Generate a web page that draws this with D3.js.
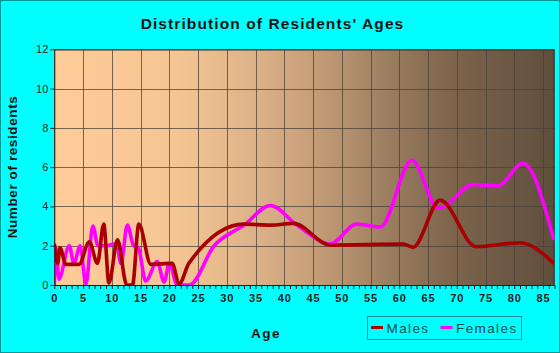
<!DOCTYPE html>
<html><head><meta charset="utf-8">
<script src="https://cdn.jsdelivr.net/npm/d3@7"></script>
<style>html,body{margin:0;padding:0;background:#00ffff;}svg{display:block;}</style>
</head><body><div id="chart"></div>
<script>
const title = "Distribution of Residents' Ages";
const xLabel = "Age", yLabel = "Number of residents";
const seriesNames = ["Males", "Females"];
const xTicks = [0,5,10,15,20,25,30,35,40,45,50,55,60,65,70,75,80,85];
const yTicks = [0,2,4,6,8,10,12];
const maleAges = [0,0.6,1.0,2,4.3,6.1,7.5,8.6,9.5,11,12.6,13.6,14.7,16.8,20.5,21.7,23.4,33,37.6,41.6,48,60.7,62.4,67.1,73.4,81,86.9];
const maleValues = [2.1,1.1,1.9,1.05,1.05,2.2,1.1,3.1,0.1,2.3,0,0,3.1,1.05,1.1,0.05,1.1,3.1,3.05,3.14,2.03,2.08,1.92,4.32,1.95,2.15,1.1];
const femaleAges = [0,0.3,0.8,2.6,3.4,4.5,5.5,6.7,7.6,8.8,9.8,10.8,11.6,12.7,13.8,14.6,15.9,17.9,19.1,20,21.4,23.5,27.8,33,37.6,42,48,52.6,56.7,62.2,66.8,72.9,77.2,81.5,86.9];
const femaleValues = [0,1.9,0.3,2.0,1.1,2.0,0.05,3.0,2.0,2.0,2.05,2.1,1.1,3.05,2.0,1.9,0.2,1.2,0.15,1.1,0,0,2.0,3.05,4.05,3.1,2.1,3.1,2.95,6.35,3.9,5.12,5.05,6.19,2.3];

const W = 560, H = 353;
const m = {left:54.3, right:554.5, top:49.3, bottom:285};
const svg = d3.select("#chart").append("svg").attr("width",W).attr("height",H);
svg.append("rect").attr("x",0.5).attr("y",0.5).attr("width",W-1).attr("height",H-1)
  .attr("fill","#00ffff").attr("stroke","#009999");

const x = d3.scaleLinear().domain([0,87]).range([m.left,m.right]);
const y = d3.scaleLinear().domain([0,12]).range([m.bottom,m.top]);

const defs = svg.append("defs");
const g = defs.append("linearGradient").attr("id","bg").attr("x1","0").attr("x2","1").attr("y1","0").attr("y2","0");
[[0,"#ffcc99"],[0.25,"#f4c593"],[0.39,"#dfb389"],[0.49,"#cca37d"],[0.57,"#b8936f"],[0.65,"#a08163"],[0.79,"#7e654c"],[0.93,"#6a5643"],[1,"#5f4e3c"]]
  .forEach(s=>g.append("stop").attr("offset",s[0]).attr("stop-color",s[1]));
defs.append("clipPath").attr("id","clip").append("rect")
  .attr("x",m.left).attr("y",m.top-2).attr("width",m.right-m.left).attr("height",m.bottom-m.top+2);

svg.append("rect").attr("x",m.left).attr("y",m.top).attr("width",m.right-m.left).attr("height",m.bottom-m.top).attr("fill","url(#bg)");

// grid
const grid = svg.append("g").attr("stroke","#4a4038").attr("stroke-opacity",0.75).attr("stroke-width",1);
yTicks.forEach(t=>grid.append("line").attr("x1",m.left).attr("x2",m.right).attr("y1",Math.round(y(t))+0.5).attr("y2",Math.round(y(t))+0.5));
xTicks.forEach(t=>grid.append("line").attr("x1",Math.round(x(t))+0.5).attr("x2",Math.round(x(t))+0.5).attr("y1",m.top).attr("y2",m.bottom));
// border top/right
svg.append("path").attr("d",`M${m.left},${m.top+0.5}H${m.right-0.5}V${m.bottom}`).attr("fill","none").attr("stroke","#3a3028").attr("stroke-width",1.2);

// lines
const line = d3.line().x(d=>x(d[0])).y(d=>y(Math.max(0,d[1]))).curve(d3.curveMonotoneX);
const lg = svg.append("g").attr("clip-path","url(#clip)");
lg.append("path").datum(femaleAges.map((a,i)=>[a,femaleValues[i]])).attr("d",line)
  .attr("fill","none").attr("stroke","#ff00ff").attr("stroke-width",3.6).attr("stroke-linejoin","round");
lg.append("path").datum(maleAges.map((a,i)=>[a,maleValues[i]])).attr("d",line)
  .attr("fill","none").attr("stroke","#a80000").attr("stroke-width",3.6).attr("stroke-linejoin","round");

// axes
const xAxis = d3.axisBottom(x).tickValues(d3.range(0,88,1)).tickSize(4).tickFormat(d=> d%5===0 ? d : "");
const xa = svg.append("g").attr("transform",`translate(0,${m.bottom})`).call(xAxis);
xa.select(".domain").attr("stroke","#222").attr("d",`M${m.left},0.5H${m.right}`);
xa.selectAll(".tick line").attr("stroke","#222");
xa.selectAll("text").attr("font-family","Liberation Sans, Arial, sans-serif").attr("font-size",11).attr("font-weight","bold")
  .attr("fill","#1a1a1a").attr("letter-spacing","0.8px").attr("dy","0.95em");

const yAxis = d3.axisLeft(y).tickValues(yTicks).tickSize(4).tickPadding(2);
const ya = svg.append("g").attr("transform",`translate(${m.left},0)`).call(yAxis);
ya.select(".domain").attr("stroke","#222").attr("d",`M0.5,${m.top}V${m.bottom}`);
ya.selectAll(".tick line").attr("stroke","#222");
ya.selectAll("text").attr("font-family","Liberation Sans, Arial, sans-serif").attr("font-size",11).attr("fill","#222");

// titles
svg.append("text").attr("x",272.5).attr("y",28.5).attr("text-anchor","middle")
  .attr("font-family","Liberation Sans, Arial, sans-serif").attr("font-size",15.5).attr("font-weight","bold")
  .attr("letter-spacing","1.1px").attr("fill","#111").text(title);
svg.append("text").attr("x",266).attr("y",337.5).attr("text-anchor","middle")
  .attr("font-family","Liberation Sans, Arial, sans-serif").attr("font-size",13.5).attr("font-weight","bold")
  .attr("letter-spacing","1.5px").attr("fill","#111").text(xLabel);
svg.append("text").attr("transform",`translate(16.5,167) rotate(-90)`).attr("text-anchor","middle")
  .attr("font-family","Liberation Sans, Arial, sans-serif").attr("font-size",13.5).attr("font-weight","bold")
  .attr("letter-spacing","0.6px").attr("fill","#111").text(yLabel);

// legend
const leg = svg.append("g");
leg.append("rect").attr("x",367.5).attr("y",316.5).attr("width",154).attr("height",23)
  .attr("fill","none").attr("stroke","#1a8a8a").attr("stroke-width",1);
const colors = ["#a80000","#ff00ff"];
const lx = [371, 440.5];
seriesNames.forEach((n,i)=>{
  leg.append("line").attr("x1",lx[i]).attr("x2",lx[i]+12).attr("y1",327.5).attr("y2",327.5)
    .attr("stroke",colors[i]).attr("stroke-width",3);
  leg.append("text").attr("x",lx[i]+15.5).attr("y",332.5)
    .attr("font-family","Liberation Sans, Arial, sans-serif").attr("font-size",13.5)
    .attr("letter-spacing","1.4px").attr("fill","#124848").text(n);
});
</script></body></html>
